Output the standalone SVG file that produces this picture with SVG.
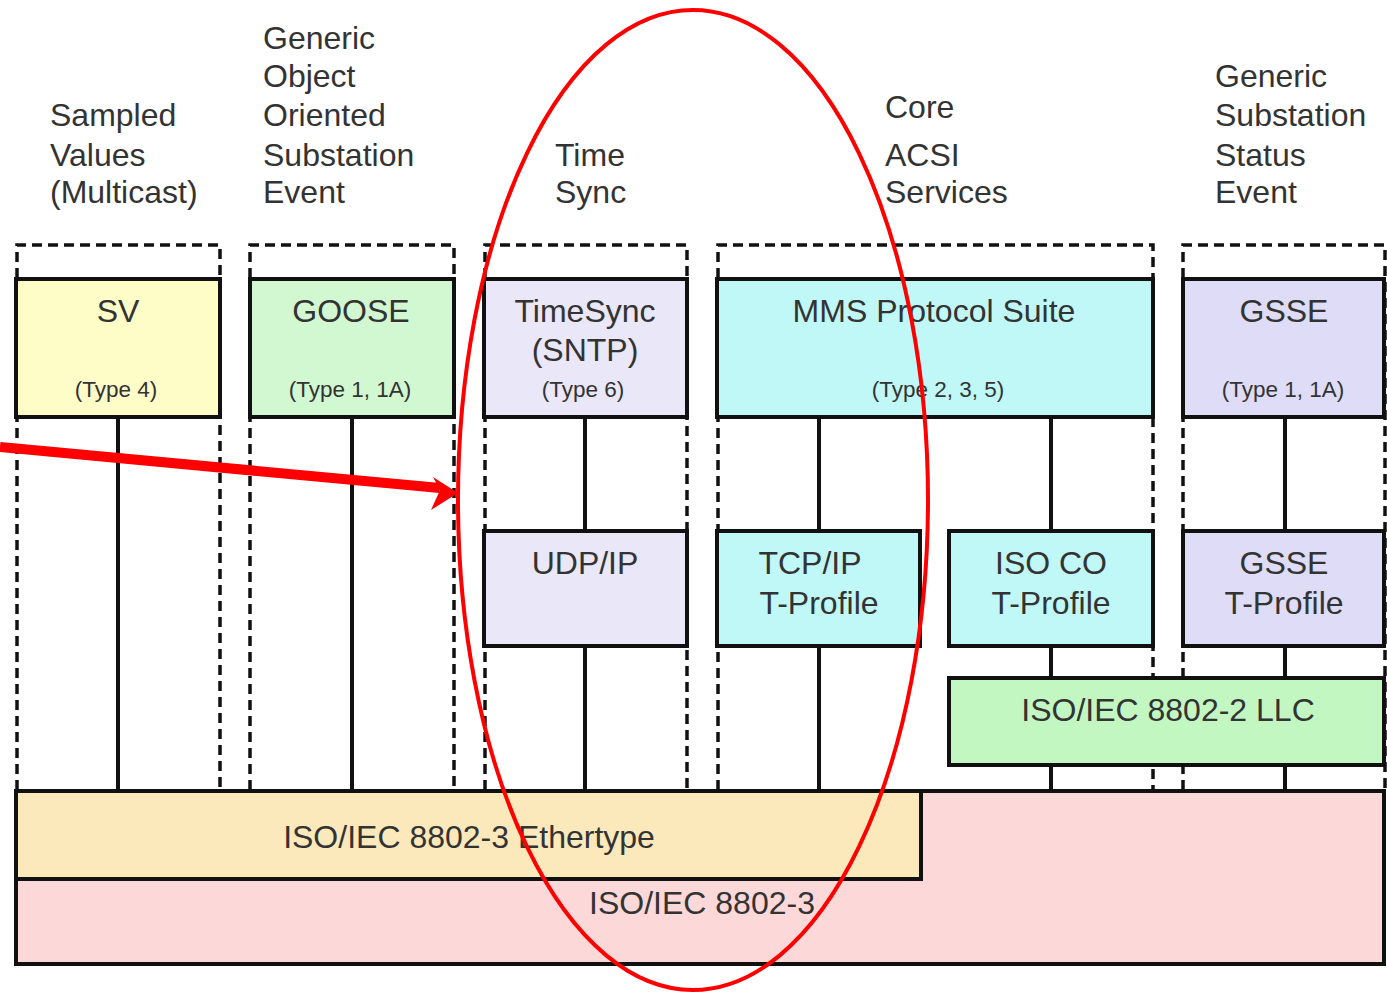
<svg xmlns="http://www.w3.org/2000/svg" width="1387" height="992" viewBox="0 0 1387 992">
<style>
text{font-family:"Liberation Sans",Arial,sans-serif;fill:#333;text-anchor:middle}
.lbl{font-size:32px;text-anchor:start}
.big{font-size:32px}
.small{font-size:22.5px}
.box{stroke:#111;stroke-width:4}
.dash{fill:none;stroke:#111;stroke-width:3.5;stroke-dasharray:10 6}
.conn{stroke:#111;stroke-width:4;fill:none}
.red{stroke:#f00;fill:none}
</style>
<rect width="1387" height="992" fill="#fff"/>
<g id="labels">
<text class="lbl" x="50" y="126">Sampled</text>
<text class="lbl" x="50" y="166">Values</text>
<text class="lbl" x="50" y="203">(Multicast)</text>
<text class="lbl" x="263" y="49">Generic</text>
<text class="lbl" x="263" y="87">Object</text>
<text class="lbl" x="263" y="126">Oriented</text>
<text class="lbl" x="263" y="166">Substation</text>
<text class="lbl" x="263" y="203">Event</text>
<text class="lbl" x="555" y="166">Time</text>
<text class="lbl" x="555" y="203">Sync</text>
<text class="lbl" x="885" y="118">Core</text>
<text class="lbl" x="885" y="166">ACSI</text>
<text class="lbl" x="885" y="203">Services</text>
<text class="lbl" x="1215" y="87">Generic</text>
<text class="lbl" x="1215" y="126">Substation</text>
<text class="lbl" x="1215" y="166">Status</text>
<text class="lbl" x="1215" y="203">Event</text>
</g>
<g id="columns">
<path class="dash" d="M17,790 V245 H220 V790"/>
<path class="dash" d="M250,790 V245 H454 V790"/>
<path class="dash" d="M485,790 V245 H687 V790"/>
<path class="dash" d="M718,790 V245 H1153 V790"/>
<path class="dash" d="M1183,790 V245 H1385 V790"/>
</g>
<g id="connectors">
<line class="conn" x1="118" y1="418" x2="118" y2="790"/>
<line class="conn" x1="352" y1="418" x2="352" y2="790"/>
<line class="conn" x1="585" y1="418" x2="585" y2="790"/>
<line class="conn" x1="819" y1="418" x2="819" y2="790"/>
<line class="conn" x1="1051" y1="418" x2="1051" y2="790"/>
<line class="conn" x1="1285" y1="418" x2="1285" y2="790"/>
</g>
<g id="n-8802-3">
<rect class="box" x="16" y="791" width="1368" height="173" fill="#fdd8d8"/>
<text class="big" x="702" y="914">ISO/IEC 8802-3</text>
</g>
<g id="n-ethertype">
<rect class="box" x="16" y="791" width="905" height="88" fill="#fbe9bb"/>
<text class="big" x="469" y="848">ISO/IEC 8802-3 Ethertype</text>
</g>
<g id="n-sv">
<rect class="box" x="16" y="279" width="204" height="138" fill="#fefdc8"/>
<text class="big" x="118" y="322">SV</text>
<text class="small" x="116" y="397">(Type 4)</text>
</g>
<g id="n-goose">
<rect class="box" x="250" y="279" width="204" height="138" fill="#d2f8d2"/>
<text class="big" x="351" y="322">GOOSE</text>
<text class="small" x="350" y="397">(Type 1, 1A)</text>
</g>
<g id="n-timesync">
<rect class="box" x="484" y="279" width="203" height="138" fill="#e9e7f8"/>
<text class="big" x="585" y="322">TimeSync</text>
<text class="big" x="585" y="361">(SNTP)</text>
<text class="small" x="583" y="397">(Type 6)</text>
</g>
<g id="n-mms">
<rect class="box" x="717" y="279" width="436" height="138" fill="#c0f8f8"/>
<text class="big" x="934" y="322">MMS Protocol Suite</text>
<text class="small" x="938" y="397">(Type 2, 3, 5)</text>
</g>
<g id="n-gsse">
<rect class="box" x="1183" y="279" width="201" height="138" fill="#dedcf6"/>
<text class="big" x="1284" y="322">GSSE</text>
<text class="small" x="1283" y="397">(Type 1, 1A)</text>
</g>
<g id="n-udp">
<rect class="box" x="484" y="531" width="203" height="115" fill="#e9e7f8"/>
<text class="big" x="585" y="574">UDP/IP</text>
</g>
<g id="n-tcp">
<rect class="box" x="717" y="531" width="203" height="115" fill="#c0f8f8"/>
<text class="big" x="810" y="574">TCP/IP</text>
<text class="big" x="819" y="614">T-Profile</text>
</g>
<g id="n-isoco">
<rect class="box" x="949" y="531" width="204" height="115" fill="#c0f8f8"/>
<text class="big" x="1051" y="574">ISO CO</text>
<text class="big" x="1051" y="614">T-Profile</text>
</g>
<g id="n-gsset">
<rect class="box" x="1183" y="531" width="201" height="115" fill="#dedcf6"/>
<text class="big" x="1284" y="574">GSSE</text>
<text class="big" x="1284" y="614">T-Profile</text>
</g>
<g id="n-llc">
<rect class="box" x="949" y="678" width="435" height="87" fill="#c2f7c2"/>
<text class="big" x="1168" y="721">ISO/IEC 8802-2 LLC</text>
</g>
<g id="annotation">
<ellipse class="red" cx="693" cy="500" rx="235" ry="490" stroke-width="4"/>
<line class="red" x1="0" y1="447" x2="440" y2="488" stroke-width="10"/>
<polygon points="458,493 433,477 440,490 431,510" fill="#f00"/>
</g>
</svg>
